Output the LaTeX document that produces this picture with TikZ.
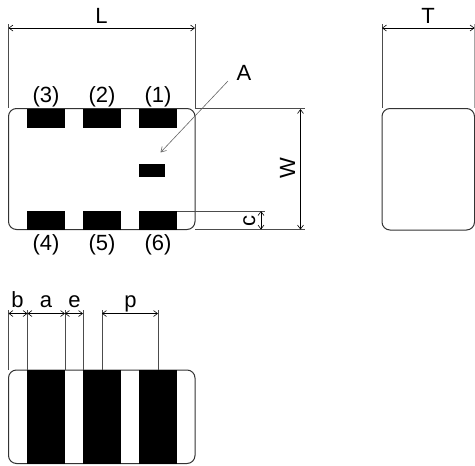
\documentclass[tikz,border=0pt]{standalone}
\usepackage{fontspec}
\setmainfont{Liberation Sans}
\usetikzlibrary{arrows.meta}
\tikzset{
  body/.style={draw=black!80,line width=1pt,rounded corners=8pt,fill=white},
  pad/.style={fill=black,draw=none},
  ext/.style={draw=black!70,line width=0.9pt},
  dim/.style={draw=black,line width=0.9pt,{Straight Barb[length=4pt,width=6pt,line width=0.6pt]}-{Straight Barb[length=4pt,width=6pt,line width=0.6pt]}},
  lead/.style={draw=black!60,line width=0.6pt,-{Straight Barb[length=5pt,width=6pt,line width=0.6pt]}},
  lab/.style={font=\fontsize{22pt}{24pt}\selectfont,inner sep=0pt,text=black,anchor=base},
}
\begin{document}
\begin{tikzpicture}[x=1pt,y=-1pt]
\useasboundingbox (0,0) rectangle (475,466);
% bodies
\draw[body] (8.5,108.5) rectangle (195,229.5);
\draw[body] (382,108.5) rectangle (474.5,230);
\draw[body] (8.5,370) rectangle (195,463.5);
% top view pads
\foreach \n/\x in {a/27,b/83,c/139}{
  \fill[pad] (\x,108.5) rectangle (\x+38,127.5);
  \fill[pad] (\x,211) rectangle (\x+38,229.5);
}
\fill[pad] (138.5,163.5) rectangle (164.5,177);
% bottom view bars
\foreach \x in {27,83,139}{
  \fill[pad] (\x,370) rectangle (\x+38,463.5);
}
% coordinates
\coordinate (Ll) at (8.5,28); \coordinate (Lr) at (195,28);
\coordinate (Tl) at (382,28); \coordinate (Tr) at (474.5,28);
\coordinate (Wt) at (300.5,109); \coordinate (Wb) at (300.5,229.5);
\coordinate (ct) at (261,211); \coordinate (cb) at (261,229.5);
\coordinate (Afrom) at (228,81); \coordinate (Ato) at (160.5,152.5);
\coordinate (bL) at (8.5,313.5); \coordinate (bR) at (27.5,313.5);
\coordinate (aR) at (65,313.5); \coordinate (eR) at (83,313.5);
\coordinate (pL) at (102,313.5); \coordinate (pR) at (158,313.5);
% extension lines
\draw[ext] (8.5,24) -- (8.5,108);
\draw[ext] (195,24) -- (195,108);
\draw[ext] (382,24) -- (382,108);
\draw[ext,black!35] (474.5,24) -- (474.5,108);
\draw[ext] (195,108.5) -- (305,108.5);
\draw[ext] (177,211) -- (265,211);
\draw[ext] (195,229.5) -- (305,229.5);
\foreach \x in {8.5,27.5,65,83,102,158}{
  \draw[ext] (\x,310) -- (\x,370);
}
% dimension lines
\draw[dim] (Ll) -- (Lr);
\draw[dim] (Tl) -- (Tr);
\draw[dim] (Wt) -- (Wb);
\draw[dim] (ct) -- (cb);
\draw[dim] (bL) -- (bR);
\draw[dim] (bR) -- (aR);
\draw[dim] (aR) -- (eR);
\draw[dim] (pL) -- (pR);
\draw[lead] (Afrom) -- (Ato);
% labels
\node[lab] (tL) at (101.5,23) {L};
\node[lab] (tT) at (428,23) {T};
\node[lab] (tA) at (244,80) {A};
\node[lab] (t3) at (46,102) {(3)};
\node[lab] (t2) at (102,102) {(2)};
\node[lab] (t1) at (158,102) {(1)};
\node[lab] (t4) at (46,250) {(4)};
\node[lab] (t5) at (102,250) {(5)};
\node[lab] (t6) at (158,250) {(6)};
\node[lab,rotate=90] (tW) at (295,168) {W};
\node[lab,rotate=90] (tc) at (255,221) {c};
\node[lab] (tb) at (17.5,307) {b};
\node[lab] (ta) at (46,307) {a};
\node[lab] (te) at (74.5,307) {e};
\node[lab] (tp) at (130.5,307) {p};
\end{tikzpicture}
\end{document}
